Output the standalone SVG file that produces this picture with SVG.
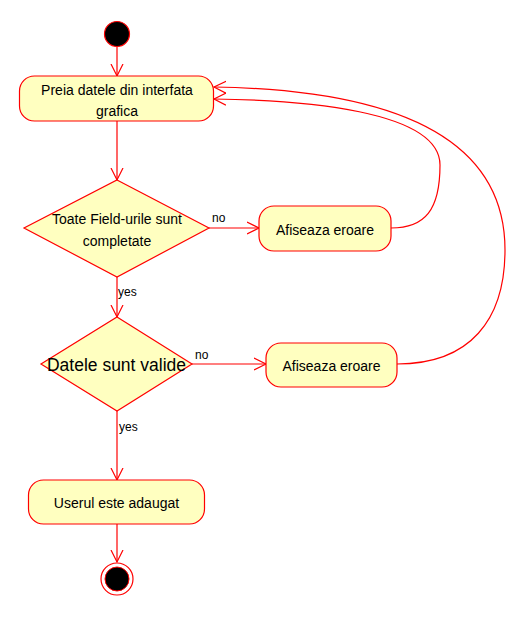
<svg xmlns="http://www.w3.org/2000/svg" width="516" height="617" viewBox="0 0 516 617">
<style>
.node{fill:#ffffc0;stroke:#ff0000;stroke-width:1.2}
.t{font-family:"Liberation Sans",Arial,sans-serif;font-size:14px;fill:#000;text-anchor:middle;dominant-baseline:central}
.lbl{font-family:"Liberation Sans",Arial,sans-serif;font-size:12px;fill:#000}
.edge{fill:none;stroke:#ff0000;stroke-width:1.2;marker-end:url(#arr)}
</style>
<defs>
<marker id="arr" markerUnits="userSpaceOnUse" markerWidth="14" markerHeight="14" refX="12" refY="6" orient="auto" viewBox="0 0 14 12">
<path d="M0,0 L12,6 L0,12" fill="none" stroke="#ff0000" stroke-width="1.2"/>
</marker>
</defs>
<rect width="516" height="617" fill="#fff"/>
<g id="connectors">
<path class="edge" d="M117,47 L117,76"/>
<path class="edge" d="M117,121 L117,180"/>
<path class="edge" d="M209,228 L259,228"/>
<path class="edge" d="M117,277 L117,317"/>
<path class="edge" d="M192,364 L266,364"/>
<path class="edge" d="M117,411 L117,480"/>
<path class="edge" d="M117,524 L117,562"/>
<path class="edge" d="M391,228 C425,228 440,210 440,165 C440,110 300,100 214,99"/>
<path class="edge" d="M397,364 C470,364 505,320 505,250 C505,140 400,90 214,87"/>
<text class="lbl" x="212" y="222">no</text>
<text class="lbl" x="118" y="296">yes</text>
<text class="lbl" x="195" y="359">no</text>
<text class="lbl" x="119" y="431">yes</text>
</g>
<g id="start">
<circle cx="117" cy="34" r="12.5" fill="#000" stroke="#ff0000" stroke-width="1.2"/>
</g>
<g id="preia">
<rect class="node" x="19.5" y="76" width="194" height="45" rx="15" ry="15"/>
<text class="t" x="117" y="89.5">Preia datele din interfata</text>
<text class="t" x="117" y="111">grafica</text>
</g>
<g id="decision1">
<polygon class="node" points="117,180 209,228 117,277 24,228"/>
<text class="t" x="117" y="219">Toate Field-urile sunt</text>
<text class="t" x="117" y="240.5">completate</text>
</g>
<g id="error1">
<rect class="node" x="259" y="206" width="132" height="45" rx="15" ry="15"/>
<text class="t" x="325" y="229.5">Afiseaza eroare</text>
</g>
<g id="decision2">
<polygon class="node" points="117,317 192,364 117,411 41,364"/>
<text class="t" x="116.5" y="365" style="font-size:17.5px">Datele sunt valide</text>
</g>
<g id="error2">
<rect class="node" x="266" y="343" width="131" height="44" rx="15" ry="15"/>
<text class="t" x="331.5" y="365.5">Afiseaza eroare</text>
</g>
<g id="userAdded">
<rect class="node" x="28.5" y="480" width="176" height="44" rx="15" ry="15"/>
<text class="t" x="116.5" y="503">Userul este adaugat</text>
</g>
<g id="end">
<circle cx="117" cy="579" r="16" fill="#fff" stroke="#ff0000" stroke-width="1.2"/>
<circle cx="117" cy="579" r="12" fill="#000" stroke="#ff0000" stroke-width="1"/>
</g>
</svg>
